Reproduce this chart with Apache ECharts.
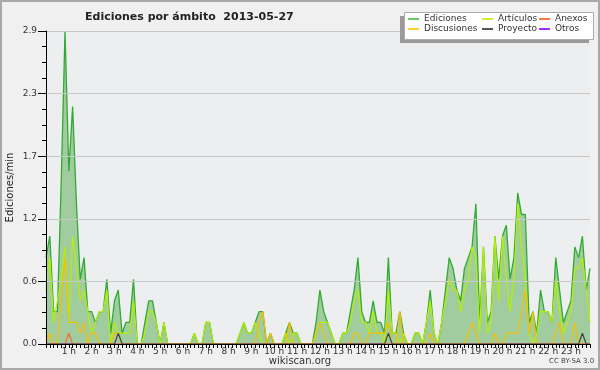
<!DOCTYPE html>
<html><head><meta charset="utf-8">
<script src="https://cdn.jsdelivr.net/npm/echarts@6/dist/echarts.min.js"></script>
<style>html,body{margin:0;padding:0;background:#f0f0f0}#c{width:600px;height:370px}</style>
</head><body><div id="c"></div>
<script>
// 10-minute bins, edits per minute
const hourLabels = ['1 h','2 h','3 h','4 h','5 h','6 h','7 h','8 h','9 h','10 h','11 h','12 h','13 h','14 h','15 h','16 h','17 h','18 h','19 h','20 h','21 h','22 h','23 h'];
const yTicks = [0.0, 0.58, 1.16, 1.74, 2.32, 2.9];

const ediciones = [
0.8,1.0,0.3,0.3,1.5,2.9,1.6,2.2,1.3,0.6, 0.8,0.3,0.3,0.2,0.3,0.3,0.6,0.1,0.4,0.5,
0.1,0.2,0.2,0.6,0,0,0.2,0.4,0.4,0.2, 0,0.2,0,0,0,0,0,0,0,0.1,
0,0,0.2,0.2,0,0,0,0,0,0, 0,0.1,0.2,0.1,0.1,0.2,0.3,0.3,0,0.1,
0,0,0,0.1,0.2,0.1,0.1,0,0,0, 0,0.2,0.5,0.3,0.2,0.1,0,0,0.1,0.1,
0.3,0.5,0.8,0.3,0.2,0.2,0.4,0.2,0.2,0.1, 0.8,0.1,0.1,0.3,0.1,0,0,0.1,0.1,0,
0.2,0.5,0.1,0,0.2,0.5,0.8,0.7,0.5,0.4, 0.7,0.8,0.9,1.3,0.2,0.9,0.2,0.3,1.0,0.6,
1.0,1.1,0.6,0.8,1.4,1.2,1.2,0.2,0.3,0.1, 0.5,0.3,0.3,0.2,0.8,0.5,0.2,0.3,0.4,0.9,
0.8,1.0,0.5,0.7];
const articulos = [
0.5,0.8,0.2,0.4,0.6,0.9,0.2,1.0,0.7,0.4, 0.5,0.3,0.1,0.2,0.3,0.3,0.5,0,0.2,0.1,
0.1,0.1,0.1,0.4,0,0,0.1,0.3,0.3,0.2, 0,0.2,0,0,0,0,0,0,0,0.1,
0,0,0.2,0.2,0,0,0,0,0,0, 0,0.1,0.2,0.1,0.1,0.2,0.1,0,0,0,
0,0,0,0.1,0,0.1,0.1,0,0,0, 0,0.1,0.2,0.2,0.2,0.1,0,0,0.1,0.1,
0.2,0.4,0.5,0.2,0.2,0.1,0.3,0.1,0.1,0, 0.5,0.1,0.1,0,0.1,0,0,0.1,0.1,0,
0.2,0.4,0.1,0,0.2,0.4,0.6,0.5,0.5,0.3, 0.5,0.6,0.9,0.8,0.1,0.9,0.1,0.2,1.0,0.4,
1.0,0.6,0.3,0.6,1.3,0.9,0.6,0.1,0,0.1, 0.3,0.3,0.3,0.2,0.6,0.3,0.1,0.2,0.3,0.7,
0.7,0.8,0.5,0.2];
const discusiones = [
0,0.1,0,0,0.4,0.8,0.2,0.2,0.2,0.1, 0.2,0,0.1,0.1,0,0,0,0,0.1,0.1,
0,0,0,0,0,0,0,0,0,0, 0,0,0,0,0,0,0,0,0,0,
0,0,0,0,0,0,0,0,0,0, 0,0,0,0,0,0,0.2,0.3,0,0.1,
0,0,0,0,0.2,0,0,0,0,0, 0,0.1,0.2,0.1,0,0,0,0,0,0,
0,0.1,0.1,0,0,0.1,0.1,0.1,0.1,0.1, 0.2,0,0,0.3,0,0,0,0,0,0,
0,0.1,0,0,0,0,0,0,0,0, 0,0.1,0.2,0.1,0,0,0,0,0.1,0,
0,0.1,0.1,0.1,0.1,0.3,0.5,0.1,0.3,0, 0,0,0,0,0.1,0.2,0,0,0,0.2,
0,0,0,0];
const anexos = [
0,0,0,0,0,0,0.1,0,0,0, 0,0,0,0,0,0,0,0,0,0,
0,0,0,0,0,0,0,0,0,0, 0,0,0,0,0,0,0,0,0,0,
0,0,0,0,0,0,0,0,0,0, 0,0,0,0,0,0,0,0,0,0,
0,0,0,0,0,0,0,0,0,0, 0,0,0,0,0,0,0,0,0,0,
0,0,0,0,0,0,0,0,0,0, 0,0,0,0,0,0,0,0,0,0,
0,0,0,0,0,0,0,0,0,0, 0,0,0,0,0,0,0,0,0,0,
0,0,0,0,0,0,0,0,0,0, 0,0,0,0,0,0,0,0,0,0,
0,0,0,0];
const proyecto = [
0,0,0,0,0,0,0,0,0,0, 0,0,0,0,0,0,0,0,0,0.1,
0,0,0,0,0,0,0,0,0,0, 0,0,0,0,0,0,0,0,0,0,
0,0,0,0,0,0,0,0,0,0, 0,0,0,0,0,0,0,0,0,0,
0,0,0,0,0,0,0,0,0,0, 0,0,0,0,0,0,0,0,0,0,
0,0,0,0,0,0,0,0,0,0, 0.1,0,0,0,0,0,0,0,0,0,
0,0,0,0,0,0,0,0,0,0, 0,0,0,0,0,0,0,0,0,0,
0,0,0,0,0,0,0,0,0,0, 0,0,0,0,0,0,0,0,0,0,
0,0.1,0,0];
const otros = [
0,0,0,0,0,0,0,0,0,0, 0,0,0,0,0,0,0,0,0,0,
0,0,0,0,0,0,0,0,0,0, 0,0,0,0,0,0,0,0,0,0,
0,0,0,0,0,0,0,0,0,0, 0,0,0,0,0,0,0,0,0,0,
0,0,0,0,0,0,0,0,0,0, 0,0,0,0,0,0,0,0,0,0,
0,0,0,0,0,0,0,0,0,0, 0,0,0,0,0,0,0,0,0,0,
0,0,0,0,0,0,0,0,0,0, 0,0,0,0,0,0,0,0,0,0,
0,0,0,0,0,0,0,0,0,0, 0,0,0,0,0,0,0,0,0,0,
0,0,0,0];

const times = [];
for (let h = 0; h < 24; h++) for (let m = 0; m < 60; m += 10)
  times.push(String(h).padStart(2,'0') + ':' + String(m).padStart(2,'0'));

const FONT = "'DejaVu Sans', sans-serif";
const chart = echarts.init(document.getElementById('c'), null, {renderer:'canvas'});

function lg(names, left) {
  return {
    z: 200, zlevel: 0,
    data: names.map(n => ({name: n[0], itemStyle: {color: n[1]}})),
    orient: 'vertical', left: left, top: 14, padding: 0, itemGap: 0,
    itemWidth: 11, itemHeight: 2, icon: 'rect', selectedMode: false,
    textStyle: {fontSize: 9, color: '#333', lineHeight: 10, fontFamily: FONT}
  };
}

const lineS = (name, data, color, w) => ({
  name, type: 'line', data, symbol: 'none', animation: false,
  lineStyle: {color, width: w}, itemStyle: {color}
});

chart.setOption({
  animation: false,
  backgroundColor: '#f0f0f0',
  textStyle: {fontFamily: FONT},
  title: {
    text: 'Ediciones por ámbito  2013-05-27', left: 80, top: 7,
    textStyle: {fontSize: 11, fontWeight: 'bold', color: '#222', fontFamily: FONT}
  },
  grid: {left: 46, right: 10, top: 31, bottom: 26, show: true, backgroundColor: '#eceef0', borderWidth: 0,
         containLabel: false, outerBoundsMode: 'none'},
  legend: [
    lg([['Ediciones','#66cc66'],['Discusiones','#ffcc33']], 408),
    lg([['Artículos','#ccee33'],['Proyecto','#555555']], 482),
    lg([['Anexos','#ff7744'],['Otros','#9933ff']], 539)
  ],
  xAxis: {
    type: 'category', data: times, boundaryGap: false, z: 10,
    axisLine: {lineStyle: {color: '#000', width: 1}},
    axisTick: {show: true, interval: 0, length: 4, lineStyle: {color: '#000'}},
    axisLabel: {
      interval: (i) => i > 0 && i % 6 === 0,
      formatter: (v, i) => hourLabels[i / 6 - 1] || '',
      fontSize: 9, color: '#333', margin: 3
    },
    splitLine: {show: false}
  },
  yAxis: {
    type: 'value', min: yTicks[0], max: yTicks[yTicks.length - 1], interval: yTicks[1], z: 10,
    axisLine: {show: true, lineStyle: {color: '#000'}},
    axisTick: {show: true, length: 8, lineStyle: {color: '#000'}},
    minorTick: {show: true, splitNumber: 4, length: 4, lineStyle: {color: '#000'}},
    splitLine: {lineStyle: {color: '#c8c8c8'}},
    axisLabel: {formatter: v => v.toFixed(1), fontSize: 9, color: '#333', margin: 9},
    name: 'Ediciones/min', nameLocation: 'middle', nameGap: 31, nameMoveOverlap: false,
    nameTextStyle: {fontSize: 10, color: '#222'}
  },
  series: [
    lineS('Otros', otros, '#9933ff', 1),
    Object.assign(lineS('Ediciones', ediciones, '#33aa33', 1.3), {areaStyle: {color: '#a0cca0', opacity: 1}}),
    lineS('Artículos', articulos, '#b4f000', 1.2),
    lineS('Discusiones', discusiones, '#f5bf00', 1.2),
    lineS('Anexos', anexos, '#ff6633', 1.2),
    lineS('Proyecto', proyecto, '#444444', 1.2)
  ],
  graphic: [
    {type: 'rect', z: 100, shape: {x: 1, y: 1, width: 598, height: 368}, style: {fill: 'none', stroke: '#a8a8a8', lineWidth: 2}},
    {type: 'rect', z: 100, shape: {x: 400, y: 16, width: 189, height: 27}, style: {fill: '#9a9a9a'}},
    {type: 'rect', z: 101, shape: {x: 404.5, y: 12.5, width: 189, height: 27}, style: {fill: '#fff', stroke: '#aaaaaa', lineWidth: 1}},
    {type: 'text', z: 100, left: 'center', top: 356, style: {text: 'wikiscan.org', fontSize: 10, fill: '#333', fontFamily: FONT}},
    {type: 'text', z: 100, left: 549, top: 358, style: {text: 'CC BY-SA 3.0', fontSize: 7, fill: '#444', fontFamily: FONT}}
  ]
});
</script></body></html>
